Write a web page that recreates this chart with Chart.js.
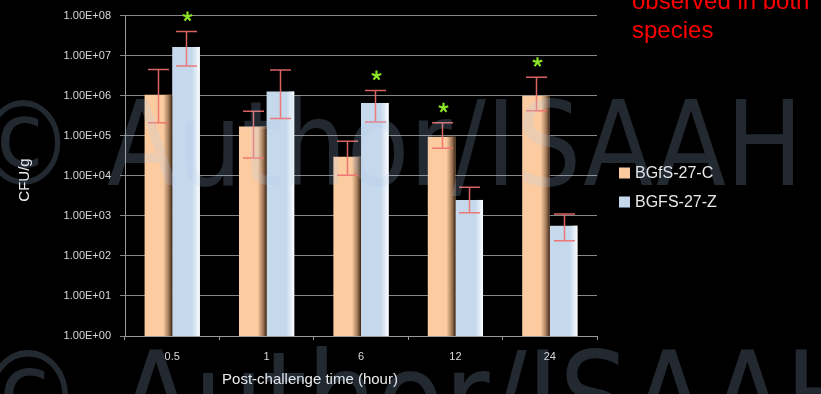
<!DOCTYPE html>
<html>
<head>
<meta charset="utf-8">
<script src="https://cdn.jsdelivr.net/npm/chart.js@4.4.1/dist/chart.umd.min.js"></script>
<style>
  html, body { margin: 0; padding: 0; background: #000; overflow: hidden; }
  #wrap { position: relative; width: 821px; height: 394px; overflow: hidden; }
  #c { position: absolute; left: 0; top: 0; }
  .note { position: absolute; left: 632px; top: -14px; font: 24px/29px "Liberation Sans", Arial, sans-serif; color: #ff0000; white-space: nowrap; }
  .mark { position: absolute; font-family: "DejaVu Sans", sans-serif; line-height: 1; white-space: nowrap;
          color: rgba(175, 205, 240, 0.2); transform-origin: 0 0; pointer-events: none; }
</style>
</head>
<body>
<div id="wrap">
  <canvas id="c" width="821" height="394"></canvas>
  <div class="note">observed in both<br>species</div>
  <div class="mark" style="left:-28px; top:86px; font-size:117px; transform:scaleX(0.875)">© Author/ISAAH</div>
  <div class="mark" style="left:-27px; top:336px; font-size:126px; transform:scaleX(0.875)">© Author/ISAAH</div>
</div>
<script>
// Post-challenge time points (hours)
const categories = ['0.5', '1', '6', '12', '24'];
const seriesNames = ['BGfS-27-C', 'BGFS-27-Z'];

// Mean CFU/g per time point
const cfuC = [1.05e6, 1.7e5, 3.0e4, 9.4e4, 1.0e6];
const cfuZ = [1.65e7, 1.27e6, 6.6e5, 2.5e3, 5.7e2];

// Error bar limits (absolute CFU/g)
const errLowC  = [2.1e5, 2.8e4, 1.03e4, 4.9e4, 4.2e5];
const errHighC = [4.5e6, 4.1e5, 7.3e4, 2.1e5, 2.9e6];
const errLowZ  = [5.5e6, 2.7e5, 2.2e5, 1.2e3, 2.4e2];
const errHighZ = [4.0e7, 4.4e6, 1.34e6, 5.2e3, 1.12e3];

// Significance markers
const starC = [false, false, false, true, true];
const starZ = [true, false, true, false, false];

// Decade ticks on the log axis
const yTicks = [1, 10, 100, 1e3, 1e4, 1e5, 1e6, 1e7, 1e8];

const peach = 'rgb(252,204,160)';
const paleBlue = 'rgb(197,216,236)';
const errColor = 'rgba(240,110,110,0.9)';
const starColor = 'rgb(140,228,40)';
const labelFont = '"Liberation Sans", Arial, sans-serif';

function sci(v) {
  const e = Math.round(Math.log10(v));
  const m = v / Math.pow(10, e);
  const sign = e < 0 ? '-' : '+';
  return m.toFixed(2) + 'E' + sign + String(Math.abs(e)).padStart(2, '0');
}

const errors = [
  { low: errLowC, high: errHighC, star: starC },
  { low: errLowZ, high: errHighZ, star: starZ }
];

// Bar edge shading, error bars, significance stars
const decorations = {
  id: 'decorations',
  afterDatasetsDraw(chart) {
    const ctx = chart.ctx;
    const y = chart.scales.y;
    ctx.save();
    chart.data.datasets.forEach((ds, di) => {
      const meta = chart.getDatasetMeta(di);
      meta.data.forEach((bar) => {
        const right = bar.x + bar.width / 2;
        const top = Math.min(bar.y, bar.base), h = Math.abs(bar.base - bar.y);
        if (di === 0) {
          const g = ctx.createLinearGradient(right - 9, 0, right, 0);
          g.addColorStop(0, 'rgba(110,72,45,0)');
          g.addColorStop(0.6, 'rgba(100,65,40,0.6)');
          g.addColorStop(1, 'rgba(55,35,22,1)');
          ctx.fillStyle = g;
          ctx.fillRect(right - 9, top, 9, h);
        } else {
          const g = ctx.createLinearGradient(right - 8, 0, right, 0);
          g.addColorStop(0, 'rgba(255,255,255,0)');
          g.addColorStop(0.65, 'rgba(255,255,255,0.6)');
          g.addColorStop(1, 'rgba(255,255,255,1)');
          ctx.fillStyle = g;
          ctx.fillRect(right - 8, top, 8, h);
        }
      });
    });
    chart.data.datasets.forEach((ds, di) => {
      const meta = chart.getDatasetMeta(di);
      const e = errors[di];
      meta.data.forEach((bar, i) => {
        const cx = Math.round(bar.x) + 0.5;
        const yl = y.getPixelForValue(e.low[i]);
        const yh = y.getPixelForValue(e.high[i]);
        ctx.strokeStyle = errColor;
        ctx.lineWidth = 1.5;
        ctx.beginPath();
        ctx.moveTo(cx, yl); ctx.lineTo(cx, yh);
        ctx.moveTo(cx - 10.5, yh); ctx.lineTo(cx + 10.5, yh);
        ctx.moveTo(cx - 10.5, yl); ctx.lineTo(cx + 10.5, yl);
        ctx.stroke();
        if (e.star[i]) {
          const sx = cx + 1, sy = yh - 15, r = 5;
          ctx.strokeStyle = starColor;
          ctx.lineWidth = 2.2;
          ctx.beginPath();
          for (let k = 0; k < 5; k++) {
            const a = -Math.PI / 2 + k * 2 * Math.PI / 5;
            ctx.moveTo(sx, sy);
            ctx.lineTo(sx + r * Math.cos(a), sy + r * Math.sin(a));
          }
          ctx.stroke();
        }
      });
    });
    ctx.restore();
  },
  afterDraw(chart) {
    const ctx = chart.ctx;
    ctx.save();
    // axis titles
    ctx.fillStyle = '#ececec';
    ctx.font = '15px ' + labelFont;
    ctx.textAlign = 'center';
    ctx.textBaseline = 'middle';
    ctx.fillText('Post-challenge time (hour)', 310, 380);
    ctx.translate(24.5, 180);
    ctx.rotate(-Math.PI / 2);
    ctx.fillText('CFU/g', 0, 0);
    ctx.setTransform(1, 0, 0, 1, 0, 0);
    // legend
    ctx.font = '16px ' + labelFont;
    ctx.textAlign = 'left';
    chart.data.datasets.forEach((ds, di) => {
      const cy = 173 + di * 29;
      ctx.fillStyle = ds.backgroundColor;
      ctx.fillRect(619, cy - 5.5, 11, 11);
      ctx.fillStyle = '#e8e8e8';
      ctx.fillText(ds.label, 635, cy + 1);
    });
    ctx.restore();
  }
};

new Chart(document.getElementById('c'), {
  type: 'bar',
  data: {
    labels: categories,
    datasets: [
      { label: seriesNames[0], data: cfuC, backgroundColor: peach, borderWidth: 0 },
      { label: seriesNames[1], data: cfuZ, backgroundColor: paleBlue, borderWidth: 0 }
    ]
  },
  options: {
    responsive: false,
    animation: false,
    devicePixelRatio: 1,
    layout: { padding: { left: 0, right: 224, top: 10, bottom: 0 } },
    datasets: { bar: { categoryPercentage: 0.585, barPercentage: 1.0 } },
    plugins: { legend: { display: false }, tooltip: { enabled: false } },
    scales: {
      x: {
        grid: { drawOnChartArea: false, tickLength: 4, color: '#9a9a9a', lineWidth: 1 },
        border: { color: '#9a9a9a', width: 1 },
        ticks: { color: '#d8d8d8', font: { family: labelFont, size: 11 }, padding: 10 },
        afterFit(s) { s.height = 58; }
      },
      y: {
        type: 'logarithmic',
        min: 1,
        max: 1e8,
        afterBuildTicks(s) { s.ticks = yTicks.map(v => ({ value: v })); },
        grid: { color: '#868686', lineWidth: 1, tickLength: 5 },
        border: { color: '#9a9a9a', width: 1 },
        ticks: {
          color: '#d8d8d8',
          font: { family: labelFont, size: 11 },
          padding: 9,
          callback: (v) => sci(v)
        },
        afterFit(s) { s.width = 125; }
      }
    }
  },
  plugins: [decorations]
});
</script>
</body>
</html>
